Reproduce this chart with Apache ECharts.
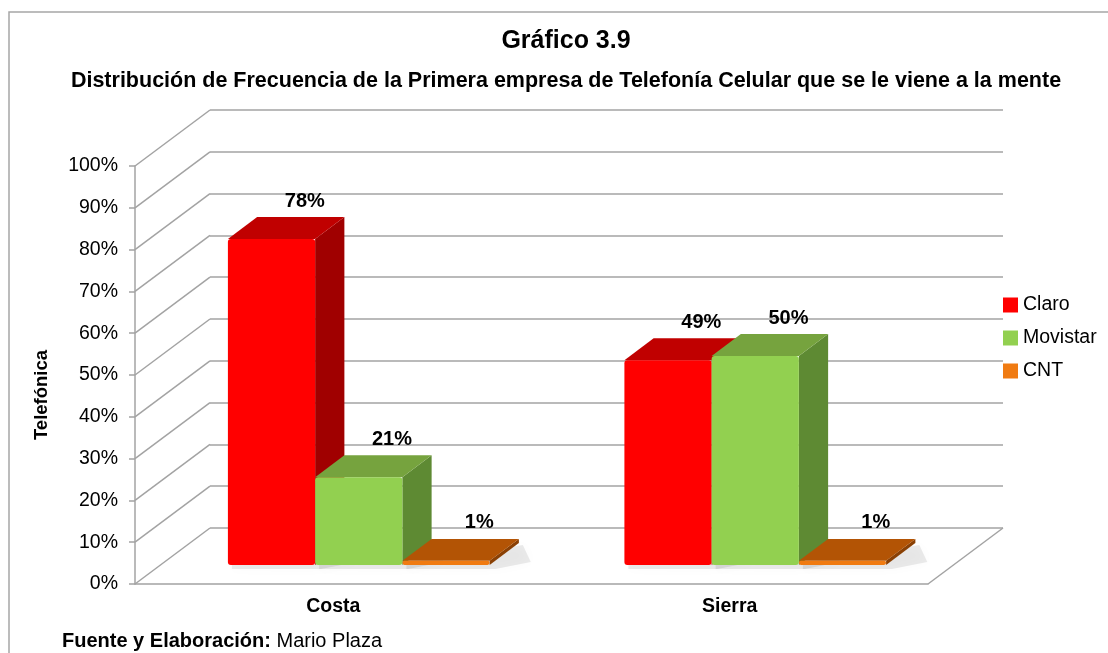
<!DOCTYPE html>
<html lang="es">
<head>
    <meta charset="UTF-8">
    <title>Gráfico 3.9</title>
    <script src="https://cdn.jsdelivr.net/npm/echarts@6/dist/echarts.min.js"></script>
    <style>
        html, body { margin: 0; padding: 0; background: #fff; }
        #main { width: 1108px; height: 653px; }
    </style>
</head>
<body>
<div id="main"></div>
<script>
    // datos
    var categories = ['Costa', 'Sierra'];
    var claro = [78, 49];
    var movistar = [21, 50];
    var cnt = [1, 1];
    var seriesNames = ['Claro', 'Movistar', 'CNT'];
    var yTicks = [0, 10, 20, 30, 40, 50, 60, 70, 80, 90, 100];

    // profundidad de la vista 3D (pixeles)
    var DX = 75, DY = 56;
    var F1 = 0.34, F2 = 0.73;   // cara frontal / trasera de las barras
    var BAR_FRAC = 0.22;
    var FONT = 'Liberation Sans, Arial, sans-serif';
    var GRID_COLOR = '#a3a3a3';

    var colors = [
        { front: '#ff0000', top: '#c00000', side: '#a00000' },
        { front: '#92d050', top: '#76a33e', side: '#5e8a33' },
        { front: '#f07b12', top: '#b35405', side: '#8a4004' }
    ];

    function barRenderer(s) {
        return function (params, api) {
            var i = api.value(0), v = api.value(1);
            var base = api.coord([i, 0]);
            var top = api.coord([i, v]);
            var band = api.size([1, 0])[0];
            var w = band * BAR_FRAC;
            var sx1 = DX * F1, sy1 = DY * F1;
            var dx = DX * (F2 - F1), dy = DY * (F2 - F1);
            var xl = base[0] + (s - 1.5) * w + sx1;
            var xr = xl + w;
            var yb = base[1] - sy1;
            var yt = top[1] - sy1;
            var c = colors[s];
            return {
                type: 'group',
                children: [
                    {
                        type: 'polygon',
                        shape: { points: [[xl + 4, yb - 2], [xr + dx + 4, yb - dy + 2], [xr + dx + 12, yb - 3], [xr + 6, yb + 4], [xl + 4, yb + 4]] },
                        style: { fill: 'rgba(0,0,0,0.08)', shadowBlur: 12, shadowColor: 'rgba(0,0,0,0.3)' }
                    },
                    {
                        type: 'polygon',
                        shape: { points: [[xr, yt], [xr + dx, yt - dy], [xr + dx, yb - dy], [xr, yb]] },
                        style: { fill: c.side }
                    },
                    {
                        type: 'polygon',
                        shape: { points: [[xl, yt], [xr, yt], [xr + dx, yt - dy], [xl + dx, yt - dy]] },
                        style: { fill: c.top }
                    },
                    {
                        type: 'rect',
                        shape: { x: xl, y: yt, width: w, height: Math.max(yb - yt, 1), r: 3 },
                        style: { fill: c.front }
                    },
                    {
                        type: 'text',
                        style: {
                            x: xl + dx + w / 2 + 4, y: yt - dy - 16,
                            text: v + '%', align: 'center', verticalAlign: 'middle',
                            font: 'bold 20px ' + FONT, fill: '#000'
                        }
                    }
                ]
            };
        };
    }

    function wallRenderer(params, api) {
        var y = api.coord([0, api.value(1)])[1];
        var cs = params.coordSys;
        var lineStyle = { stroke: GRID_COLOR, lineWidth: 1.5 };
        var children = [{
            type: 'line',
            shape: { x1: cs.x, y1: y, x2: cs.x + DX, y2: y - DY },
            style: lineStyle
        }];
        if (params.dataIndex === 0) {
            children.push({
                type: 'line',
                shape: { x1: cs.x + cs.width, y1: y, x2: cs.x + cs.width + DX, y2: y - DY },
                style: lineStyle
            });
        }
        return { type: 'group', children: children };
    }

    function pairs(arr) {
        return arr.map(function (v, i) { return [i, v]; });
    }

    var myChart = echarts.init(document.getElementById('main'), null, { renderer: 'canvas' });

    var option = {
        animation: false,
        backgroundColor: '#fff',
        title: [
            {
                text: 'Gráfico 3.9', left: 561, top: 24, textAlign: 'center',
                textStyle: { fontFamily: FONT, fontSize: 25, fontWeight: 'bold', color: '#000' }
            },
            {
                text: 'Distribución de Frecuencia de la Primera empresa de Telefonía Celular que se le viene a la mente',
                left: 561, top: 65, textAlign: 'center',
                textStyle: { fontFamily: FONT, fontSize: 21.5, fontWeight: 'bold', color: '#000' }
            }
        ],
        legend: {
            orient: 'vertical', left: 998, top: 290,
            itemWidth: 15, itemHeight: 15, itemGap: 13, icon: 'rect',
            data: seriesNames,
            textStyle: { fontFamily: FONT, fontSize: 19.5, color: '#000' }
        },
        graphic: [
            {
                type: 'rect', silent: true, z: -10,
                shape: { x: 9, y: 12, width: 1200, height: 700 },
                style: { fill: 'none', stroke: '#a6a6a6', lineWidth: 1.5 }
            },
            {
                type: 'text', silent: true,
                rotation: Math.PI / 2, x: 42, y: 395,
                style: {
                    x: 0, y: 0, text: 'Telefónica', align: 'center', verticalAlign: 'middle',
                    font: 'bold 18.5px ' + FONT, fill: '#000'
                }
            },
            {
                type: 'text', silent: true,
                x: 62, y: 641,
                style: {
                    x: 0, y: 0,
                    text: '{b|Fuente y Elaboración:} Mario Plaza',
                    verticalAlign: 'middle',
                    font: '20px ' + FONT, fill: '#000',
                    rich: { b: { fontWeight: 'bold', fontSize: 20, fontFamily: FONT } }
                }
            }
        ],
        grid: [
            { left: 135, right: 180, top: 166, bottom: 69 },
            { left: 135 + DX, right: 180 - DX, top: 166 - DY, bottom: 69 + DY }
        ],
        xAxis: [
            {
                type: 'category', gridIndex: 0, data: categories,
                axisLine: { lineStyle: { color: GRID_COLOR, width: 1.5 } },
                axisTick: { length: 6, lineStyle: { color: GRID_COLOR, width: 1.5 } },
                axisLabel: { margin: 13, fontFamily: FONT, fontSize: 19.5, fontWeight: 'bold', color: '#000' }
            },
            {
                type: 'category', gridIndex: 1, data: categories,
                axisLine: { show: false }, axisTick: { show: false }, axisLabel: { show: false }
            }
        ],
        yAxis: [
            {
                type: 'value', gridIndex: 0, min: 0, max: 100, interval: 10,
                splitLine: { show: false },
                axisLine: { show: true, lineStyle: { color: GRID_COLOR, width: 1.5 } },
                axisTick: { show: true, length: 6, lineStyle: { color: GRID_COLOR, width: 1.5 } },
                axisLabel: { formatter: '{value}%', margin: 17, fontFamily: FONT, fontSize: 19.5, color: '#000' }
            },
            {
                type: 'value', gridIndex: 1, min: 0, max: 100, interval: 10,
                splitLine: { show: true, lineStyle: { color: GRID_COLOR, width: 1.5 } },
                axisLine: { show: false }, axisTick: { show: false }, axisLabel: { show: false }
            }
        ],
        series: [
            {
                type: 'custom', name: 'pared', xAxisIndex: 0, yAxisIndex: 0, silent: true,
                renderItem: wallRenderer, data: pairs(yTicks).map(function (p) { return [0, p[1]]; }),
                z: 1
            },
            {
                type: 'custom', name: seriesNames[0], xAxisIndex: 0, yAxisIndex: 0,
                itemStyle: { color: colors[0].front },
                renderItem: barRenderer(0), data: pairs(claro), z: 3
            },
            {
                type: 'custom', name: seriesNames[1], xAxisIndex: 0, yAxisIndex: 0,
                itemStyle: { color: colors[1].front },
                renderItem: barRenderer(1), data: pairs(movistar), z: 4
            },
            {
                type: 'custom', name: seriesNames[2], xAxisIndex: 0, yAxisIndex: 0,
                itemStyle: { color: colors[2].front },
                renderItem: barRenderer(2), data: pairs(cnt), z: 5
            }
        ]
    };

    myChart.setOption(option);
</script>
</body>
</html>
